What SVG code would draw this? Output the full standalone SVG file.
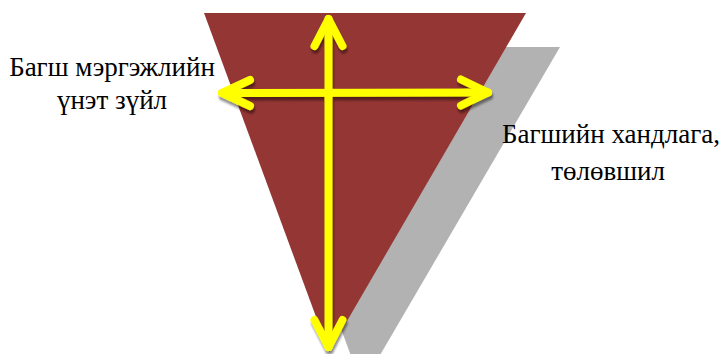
<svg xmlns="http://www.w3.org/2000/svg" width="719" height="354" viewBox="0 0 719 354">
<defs>
<style>
.lbl{font-family:"Liberation Serif","Times New Roman",serif;font-size:27px;fill:#000;text-anchor:middle}
.arr{fill:none;stroke:#FFFF00;stroke-width:8;stroke-linecap:round;stroke-linejoin:round}
</style>
<filter id="sh" x="-20%" y="-20%" width="140%" height="140%">
<feDropShadow dx="1" dy="3.5" stdDeviation="1.2" flood-color="#000" flood-opacity="0.45"/>
</filter>
</defs>
<g id="shadow-triangle"><polygon points="238,47 560,47 362,386" fill="#B2B2B2"/></g>
<g id="triangle"><polygon points="204,13 526,13 329,352" fill="#943634"/></g>
<g id="connectors" filter="url(#sh)">
<line class="arr" x1="328.5" y1="19" x2="328.5" y2="347"/>
<polyline class="arr" points="314.5,46 328.5,19 342.5,46"/>
<polyline class="arr" points="314.5,320 328.5,347 342.5,320"/>
<line class="arr" x1="222" y1="93" x2="488" y2="92.5"/>
<polyline class="arr" points="250,80 222,93 250,106"/>
<polyline class="arr" points="461,79.5 488,92.5 461,105.5"/>
</g>
<g id="label-left">
<text class="lbl" x="112" y="76">Багш мэргэжлийн</text>
<text class="lbl" x="112" y="109">үнэт зүйл</text>
</g>
<g id="label-right">
<text class="lbl" x="611" y="143">Багшийн хандлага,</text>
<text class="lbl" x="608" y="180">төлөвшил</text>
</g>
</svg>
